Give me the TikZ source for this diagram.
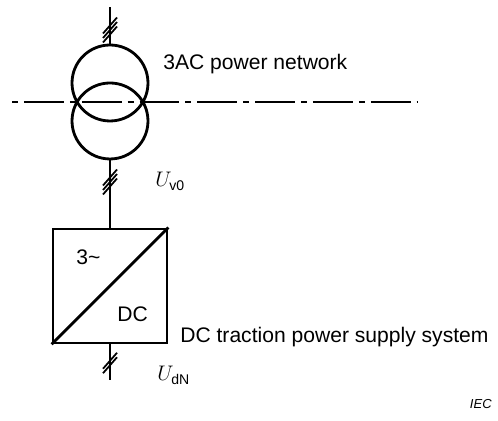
\documentclass[tikz,border=0pt]{standalone}
\usepackage{amsmath}
\usepackage{fontspec}
\setmainfont{Liberation Sans}
\usetikzlibrary{positioning}

\tikzset{
  winding/.style={circle,draw,line width=1.6pt,minimum size=1.52cm,inner sep=0pt},
  conv/.style={rectangle,draw,line width=1.6pt,minimum size=2.28cm,inner sep=0pt},
  wire/.style={line width=1pt},
  axis/.style={line width=1pt,dash pattern=on 22.7pt off 3.4pt on 3.4pt off 3.4pt,dash phase=26.1pt},
  lbl/.style={inner sep=0pt,font=\fontsize{12}{14}\selectfont},
  triple/.pic={\draw[wire] (-0.14cm,-0.25cm) -- (0.14cm,0.07cm)
                           (-0.14cm,-0.16cm) -- (0.14cm,0.16cm)
                           (-0.14cm,-0.07cm) -- (0.14cm,0.25cm);},
  double/.pic={\draw[wire] (-0.14cm,-0.205cm) -- (0.14cm,0.115cm)
                           (-0.14cm,-0.115cm) -- (0.14cm,0.205cm);}
}

\begin{document}
\begin{tikzpicture}[x=0.02cm,y=-0.02cm,on grid]
   \useasboundingbox (0,0) rectangle (498,421);
   % transformer
   \node[winding] (prim) at (110,83) {};
   \node[winding] (sec) [below=0.76cm of prim] {};
   % converter
   \node[conv] (rect) [below=3.3cm of sec] {};
   \coordinate[above=1.52cm of prim] (feed);
   \coordinate[below=1.88cm of rect] (out);
   \coordinate (axl) at (12,102);
   \coordinate (axr) at (418,102);

   \draw[wire] (feed) -- (prim);
   \draw[wire] (sec) -- (rect);
   \draw[wire] (rect) -- (out);
   \draw[line width=1.6pt] (rect.south west) -- (rect.north east);
   \draw[axis] (axl) -- (axr);

   \pic at (110,30) {triple};
   \pic at (110,182) {triple};
   \pic at (110,363) {double};

   \node[lbl,anchor=base west] (net) at (163,70) {3AC power network};
   \node[lbl,anchor=base west] (uv) at (155,187) {$U_{\text{v0}}$};
   \node[lbl,anchor=base west] (ac) at (76,265) {3\textasciitilde};
   \node[lbl,anchor=base west] (dc) at (117,322) {DC};
   \node[lbl,anchor=base west] (sys) at (180,343) {DC traction power supply system};
   \node[lbl,anchor=base west] (ud) at (157,381) {$U_{\text{dN}}$};
   \node[inner sep=0pt,anchor=base east,font=\fontsize{7.4}{9}\selectfont\itshape] (iec) at (492,409) {IEC};
\end{tikzpicture}
\end{document}
